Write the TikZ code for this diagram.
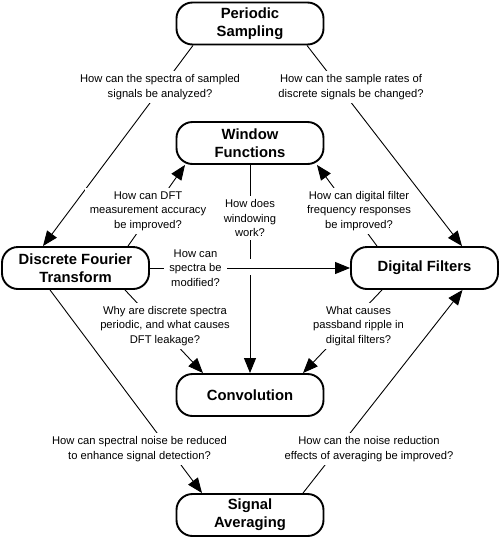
\documentclass[tikz,border=0pt]{standalone}
\usepackage{fontspec}
\setmainfont{Liberation Sans}
\usetikzlibrary{arrows.meta,calc}
\begin{document}
\begin{tikzpicture}[x=1pt,y=-1pt,
  box/.style={draw, line width=1.9pt, rounded corners=16pt, minimum width=147pt,
    minimum height=42pt, inner sep=0pt, align=center,
    font=\fontsize{14.8}{18}\selectfont\bfseries},
  lbl/.style={fill=white, inner xsep=5pt, inner ysep=3.5pt, align=center,
    font=\fontsize{11.2}{14.5}\selectfont},
  con/.style={line width=0.9pt},
  arr/.style={con, -{Triangle[length=15pt,width=12pt]}}]
\useasboundingbox (0,0) rectangle (500,539);

% boxes
\node[box] (ps)   at (250,23.5)  {Periodic\\Sampling};
\node[box] (wf)   at (250,143)   {Window\\Functions};
\node[box] (dft)  at (75.5,268)  {Discrete Fourier\\Transform};
\node[box] (df)   at (424.5,268) {Digital Filters};
\node[box] (conv) at (250,395)   {Convolution};
\node[box] (sa)   at (250,515)   {Signal\\Averaging};

% connectors
\draw[arr] ($(ps.south)+(-57,0)$) -- ($(dft.north)+(-32.5,0)$);
\draw[arr] ($(ps.south)+(57,0)$) -- ($(df.north)+(37.5,0)$);
\draw[arr] ($(dft.north)+(52.5,0)$) -- ($(wf.south)+(-65,0)$);
\draw[arr] ($(df.north)+(-47.5,0)$) -- ($(wf.south)+(67,0)$);
\coordinate (cross) at (wf.south |- dft.east);
\draw[con] (wf.south) -- ([yshift=9pt]cross);
\draw[arr] ([yshift=-7pt]cross) -- (conv.north);
\draw[arr] (dft.east) -- (df.west);
\draw[arr] ($(dft.south)+(49.5,0)$) -- ($(conv.north)+(-47,0)$);
\draw[arr] ($(df.south)+(-42.5,0)$) -- ($(conv.north)+(53,0)$);
\draw[arr] ($(dft.south)+(-25.5,0)$) -- ($(sa.north)+(-48,0)$);
\draw[arr] ($(sa.north)+(53,0)$) -- ($(df.south)+(38,0)$);

% labels
\node[lbl] (q1)  at (160,87)    {How can the spectra of sampled\\signals be analyzed?};
\node[lbl] (q2)  at (351,87)    {How can the sample rates of\\discrete signals be changed?};
\node[lbl] (q3)  at (148,211)   {How can DFT\\measurement accuracy\\be improved?};
\node[lbl] (q4)  at (250,218)   {How does\\windowing\\work?};
\node[lbl] (q5)  at (359,211)   {How can digital filter\\frequency responses\\be improved?};
\node[lbl] (q6)  at (195.5,268) {How can\\spectra be\\modified?};
\node[lbl] (q7)  at (165,326)   {Why are discrete spectra\\periodic, and what causes\\DFT leakage?};
\node[lbl] (q8)  at (358.5,326) {What causes\\passband ripple in\\digital filters?};
\node[lbl] (q9)  at (139.5,449) {How can spectral noise be reduced\\to enhance signal detection?};
\node[lbl] (q10) at (369,449)   {How can the noise reduction\\effects of averaging be improved?};
\end{tikzpicture}
\end{document}
